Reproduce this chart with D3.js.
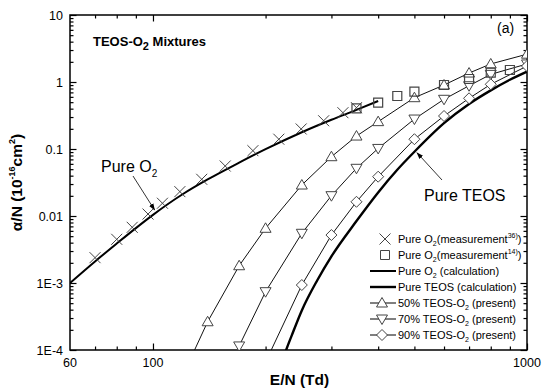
<!DOCTYPE html>
<html>
<head>
<meta charset="utf-8">
<script src="https://cdn.jsdelivr.net/npm/d3@7"></script>
<style>
  html, body { margin: 0; padding: 0; background: #fff; }
  svg { display: block; font-family: "Liberation Sans", Arial, sans-serif; }
</style>
</head>
<body>
<svg id="chart" width="542" height="388"></svg>
<script>
// Ionization coefficient α/N versus reduced field E/N (Td)

// Pure O2, measurement (ref. 36) – crosses
const o2Meas36E = [70, 80, 88, 97, 106, 118, 135, 156, 185, 217, 249, 286, 322, 350];
const o2Meas36A = [0.00239, 0.00449, 0.00678, 0.0107, 0.0155, 0.0231, 0.0353, 0.0557, 0.0944, 0.140, 0.199, 0.264, 0.348, 0.414];

// Pure O2, measurement (ref. 14) – squares
const o2Meas14E = [350, 400, 450, 500, 600, 700, 800, 900];
const o2Meas14A = [0.405, 0.491, 0.618, 0.716, 0.902, 1.109, 1.377, 1.51];

// Pure O2, calculation
const o2CalcE = [60, 70, 80, 90, 100, 120, 140, 170, 200, 250, 300, 350, 400];
const o2CalcA = [0.001, 0.0021, 0.00388, 0.0066, 0.0104, 0.0211, 0.0351, 0.0626, 0.0994, 0.178, 0.273, 0.383, 0.52];

// Pure TEOS, calculation
const teosE = [220, 227, 235, 250, 275, 300, 350, 400, 450, 500, 600, 700, 800, 900, 1000];
const teosA = [0.00006, 0.0001, 0.000165, 0.00039, 0.0011, 0.0025, 0.0084, 0.0225, 0.049, 0.091, 0.243, 0.47, 0.75, 1.08, 1.43];

// 50% TEOS-O2 (present)
const mix50E = [120, 140, 170, 200, 250, 300, 350, 400, 500, 600, 700, 800, 1000];
const mix50A = [0.000041, 0.000264, 0.00181, 0.00655, 0.029, 0.0767, 0.156, 0.256, 0.583, 0.902, 1.36, 1.86, 2.6];

// 70% TEOS-O2 (present)
const mix70E = [170, 200, 250, 300, 350, 400, 500, 600, 700, 800, 1000];
const mix70A = [0.000115, 0.000742, 0.00552, 0.0201, 0.0515, 0.102, 0.28, 0.552, 0.88, 1.30, 1.86];

// 90% TEOS-O2 (present)
const mix90E = [200, 250, 300, 350, 400, 500, 600, 700, 800, 1000];
const mix90A = [0.000066, 0.000933, 0.0052, 0.0163, 0.0386, 0.14, 0.311, 0.571, 0.924, 1.73];

// Axis ticks
const xMajor = [100, 1000];
const xMinor = [70, 80, 90, 200, 300, 400, 500, 600, 700, 800, 900];
const xLabelVals = [60, 100, 1000];
const xLabelText = ["60", "100", "1000"];
const yMajor = [10, 1, 0.1, 0.01, 0.001, 0.0001];
const yLabelText = ["10", "1", "0.1", "0.01", "1E-3", "1E-4"];

const svg = d3.select("#chart");
const L = 70, R = 527, T = 15, B = 350;

const x = d3.scaleLog().domain([60, 1000]).range([L, R]);
const y = d3.scaleLog().domain([1e-4, 10]).range([B, T]);

const zip = (a, b) => a.map((v, i) => [v, b[i]]);

// minor y ticks: 2..9 within each decade
const yMinor = [];
for (let d = -4; d < 1; d++) for (let k = 2; k <= 9; k++) yMinor.push(k * Math.pow(10, d));

svg.append("defs").append("clipPath").attr("id", "plotclip")
  .append("rect").attr("x", L).attr("y", T).attr("width", R - L).attr("height", B - T);

svg.select("defs").append("marker")
  .attr("id", "arrowhead").attr("viewBox", "0 0 10 10")
  .attr("refX", 9).attr("refY", 5).attr("markerWidth", 7).attr("markerHeight", 7)
  .attr("markerUnits", "userSpaceOnUse").attr("orient", "auto")
  .append("path").attr("d", "M0,1.5 L10,5 L0,8.5 Z").attr("fill", "#000");

// ---- axes (ticks point inward on all four sides) ----
const tickColor = "#000";
function xTicks(vals, len) {
  svg.append("g").attr("transform", `translate(0,${B})`)
    .call(d3.axisBottom(x).tickValues(vals).tickSize(-len).tickFormat(""))
    .call(g => g.select(".domain").remove())
    .call(g => g.selectAll("line").attr("stroke", tickColor).attr("stroke-width", 1.2));
  svg.append("g").attr("transform", `translate(0,${T})`)
    .call(d3.axisTop(x).tickValues(vals).tickSize(-len).tickFormat(""))
    .call(g => g.select(".domain").remove())
    .call(g => g.selectAll("line").attr("stroke", tickColor).attr("stroke-width", 1.2));
}
function yTicks(vals, len) {
  svg.append("g").attr("transform", `translate(${L},0)`)
    .call(d3.axisLeft(y).tickValues(vals).tickSize(-len).tickFormat(""))
    .call(g => g.select(".domain").remove())
    .call(g => g.selectAll("line").attr("stroke", tickColor).attr("stroke-width", 1.2));
  svg.append("g").attr("transform", `translate(${R},0)`)
    .call(d3.axisRight(y).tickValues(vals).tickSize(-len).tickFormat(""))
    .call(g => g.select(".domain").remove())
    .call(g => g.selectAll("line").attr("stroke", tickColor).attr("stroke-width", 1.2));
}
xTicks(xMajor, 6.5);
xTicks(xMinor, 3.5);
yTicks(yMajor, 6.5);
yTicks(yMinor, 3.5);

svg.append("rect").attr("x", L).attr("y", T).attr("width", R - L).attr("height", B - T)
  .attr("fill", "none").attr("stroke", "#000").attr("stroke-width", 1.5);

// tick labels
svg.append("g").selectAll("text").data(xLabelVals).join("text")
  .attr("x", d => x(d)).attr("y", B + 17)
  .attr("text-anchor", "middle").attr("font-size", 12.5)
  .text((d, i) => xLabelText[i]);
svg.append("g").selectAll("text").data(yMajor).join("text")
  .attr("x", L - 7).attr("y", d => y(d) + 4.5)
  .attr("text-anchor", "end").attr("font-size", 12.5)
  .text((d, i) => yLabelText[i]);

// axis titles
svg.append("text").attr("x", (L + R) / 2 + 1).attr("y", 385)
  .attr("text-anchor", "middle").attr("font-size", 15.5).attr("font-weight", "bold")
  .text("E/N (Td)");

const yt = svg.append("text").attr("transform", `translate(22,${(T + B) / 2}) rotate(-90)`)
  .attr("text-anchor", "middle").attr("font-size", 15.5).attr("font-weight", "bold");
yt.append("tspan").text("α/N (10");
yt.append("tspan").attr("font-size", 9).attr("dy", -7).text("-16");
yt.append("tspan").attr("dy", 7).text("cm");
yt.append("tspan").attr("font-size", 9).attr("dy", -7).text("2");
yt.append("tspan").attr("dy", 7).text(")");

// ---- plot content ----
const plot = svg.append("g").attr("clip-path", "url(#plotclip)");

const lineLin = d3.line().x(d => x(d[0])).y(d => y(d[1]));
const lineSmooth = d3.line().x(d => x(d[0])).y(d => y(d[1])).curve(d3.curveMonotoneX);

const markStroke = "#444";
const symTriUp = "M0,-5.5 L5.5,4 L-5.5,4 Z";
const symTriDown = "M0,5.5 L5.5,-4 L-5.5,-4 Z";
const symDiamond = "M0,-5.5 L5.5,0 L0,5.5 L-5.5,0 Z";
const symSquare = "M-4.5,-4.5 H4.5 V4.5 H-4.5 Z";
const symCross = "M-5.5,-5.5 L5.5,5.5 M-5.5,5.5 L5.5,-5.5";

// calculation curves
plot.append("path").datum(zip(o2CalcE, o2CalcA)).attr("d", lineSmooth)
  .attr("fill", "none").attr("stroke", "#000").attr("stroke-width", 2);
plot.append("path").datum(zip(teosE, teosA)).attr("d", lineSmooth)
  .attr("fill", "none").attr("stroke", "#000").attr("stroke-width", 2.4);

// mixture series: thin lines with open markers
const mixes = [
  { E: mix50E, A: mix50A, sym: symTriUp },
  { E: mix70E, A: mix70A, sym: symTriDown },
  { E: mix90E, A: mix90A, sym: symDiamond }
];
mixes.forEach(m => {
  const pts = zip(m.E, m.A);
  plot.append("path").datum(pts).attr("d", lineLin)
    .attr("fill", "none").attr("stroke", "#111").attr("stroke-width", 1);
  plot.append("g").selectAll("path").data(pts).join("path")
    .attr("transform", d => `translate(${x(d[0])},${y(d[1])})`)
    .attr("d", m.sym).attr("fill", "#fff").attr("stroke", markStroke).attr("stroke-width", 1);
});

// measured pure O2
plot.append("g").selectAll("path").data(zip(o2Meas14E, o2Meas14A)).join("path")
  .attr("transform", d => `translate(${x(d[0])},${y(d[1])})`)
  .attr("d", symSquare).attr("fill", "none").attr("stroke", markStroke).attr("stroke-width", 1.2);
plot.append("g").selectAll("path").data(zip(o2Meas36E, o2Meas36A)).join("path")
  .attr("transform", d => `translate(${x(d[0])},${y(d[1])})`)
  .attr("d", symCross).attr("fill", "none").attr("stroke", markStroke).attr("stroke-width", 1);

// ---- annotations ----
svg.append("text").attr("x", 93).attr("y", 46).attr("font-size", 13).attr("font-weight", "bold")
  .call(t => {
    t.append("tspan").text("TEOS-O");
    t.append("tspan").attr("font-size", 11).attr("dy", 4).text("2");
    t.append("tspan").attr("dy", -4).text(" Mixtures");
  });
svg.append("text").attr("x", 497).attr("y", 33).attr("font-size", 14).text("(a)");

// Pure O2 pointer
svg.append("text").attr("x", 101).attr("y", 172).attr("font-size", 16)
  .call(t => {
    t.append("tspan").text("Pure O");
    t.append("tspan").attr("font-size", 10).attr("dy", 5).text("2");
  });
svg.append("line").attr("x1", 133).attr("y1", 176).attr("x2", x(101)).attr("y2", y(0.0123))
  .attr("stroke", "#000").attr("stroke-width", 0.8).attr("marker-end", "url(#arrowhead)");

// Pure TEOS pointer
svg.append("text").attr("x", 424).attr("y", 201).attr("font-size", 16).text("Pure TEOS");
svg.append("line").attr("x1", 442).attr("y1", 180).attr("x2", x(508)).attr("y2", y(0.088))
  .attr("stroke", "#000").attr("stroke-width", 0.8).attr("marker-end", "url(#arrowhead)");

// ---- legend ----
const legend = svg.append("g").attr("font-size", 11);
const ly0 = 239, lstep = 16, lx = 370, ltx = 398;
const legendItems = [
  { kind: "sym", sym: symCross, parts: [["Pure O"], ["2", "sub"], ["(measurement"], ["36)", "sup"], [")"]] },
  { kind: "sym", sym: symSquare, parts: [["Pure O"], ["2", "sub"], ["(measurement"], ["14)", "sup"], [")"]] },
  { kind: "line", w: 2, parts: [["Pure O"], ["2", "sub"], [" (calculation)"]] },
  { kind: "line", w: 2.4, parts: [["Pure TEOS (calculation)"]] },
  { kind: "lsym", sym: symTriUp, parts: [["50% TEOS-O"], ["2", "sub"], [" (present)"]] },
  { kind: "lsym", sym: symTriDown, parts: [["70% TEOS-O"], ["2", "sub"], [" (present)"]] },
  { kind: "lsym", sym: symDiamond, parts: [["90% TEOS-O"], ["2", "sub"], [" (present)"]] }
];
legendItems.forEach((it, i) => {
  const cy = ly0 + i * lstep;
  if (it.kind === "sym") {
    legend.append("path").attr("transform", `translate(${lx + 15},${cy})`)
      .attr("d", it.sym).attr("fill", "none").attr("stroke", markStroke).attr("stroke-width", 1);
  } else {
    legend.append("line").attr("x1", lx).attr("x2", lx + 26).attr("y1", cy).attr("y2", cy)
      .attr("stroke", "#000").attr("stroke-width", it.kind === "line" ? it.w : 1);
    if (it.kind === "lsym") {
      legend.append("path").attr("transform", `translate(${lx + 12},${cy})`)
        .attr("d", it.sym).attr("fill", "#fff").attr("stroke", markStroke).attr("stroke-width", 1);
    }
  }
  const t = legend.append("text").attr("x", ltx).attr("y", cy + 4);
  let shift = 0;
  it.parts.forEach(([s, k]) => {
    const sp = t.append("tspan").text(s);
    let target = 0;
    if (k === "sub") { sp.attr("font-size", 7); target = 3; }
    else if (k === "sup") { sp.attr("font-size", 7); target = -5; }
    sp.attr("dy", target - shift);
    shift = target;
  });
});
</script>
</body>
</html>
